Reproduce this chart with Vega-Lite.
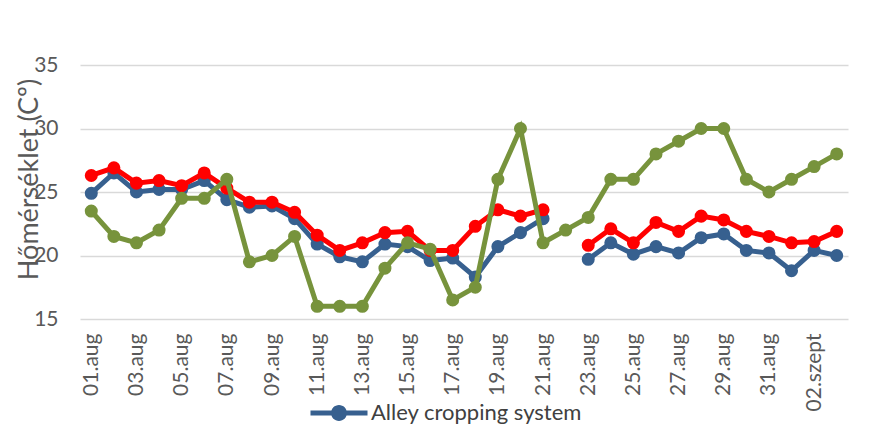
{
  "$schema": "https://vega.github.io/schema/vega-lite/v6.json",
  "width": 768,
  "height": 254,
  "autosize": {"type": "none"},
  "padding": {"left": 80, "top": 65, "right": 22, "bottom": 108},
  "background": "white",
  "config": {
    "view": {"stroke": null},
    "font": "Lato",
    "axis": {"labelFont": "Lato", "titleFont": "Lato", "labelColor": "#595959", "titleColor": "#595959"},
    "legend": {"padding": 0}
  },
  "data": {"values": [
    {"d":"01.aug","s":"Alley cropping system","t":24.9},{"d":"02.aug","s":"Alley cropping system","t":26.5},{"d":"03.aug","s":"Alley cropping system","t":25.0},{"d":"04.aug","s":"Alley cropping system","t":25.2},{"d":"05.aug","s":"Alley cropping system","t":25.2},{"d":"06.aug","s":"Alley cropping system","t":25.9},{"d":"07.aug","s":"Alley cropping system","t":24.4},{"d":"08.aug","s":"Alley cropping system","t":23.8},{"d":"09.aug","s":"Alley cropping system","t":23.9},{"d":"10.aug","s":"Alley cropping system","t":22.9},{"d":"11.aug","s":"Alley cropping system","t":20.9},{"d":"12.aug","s":"Alley cropping system","t":19.9},{"d":"13.aug","s":"Alley cropping system","t":19.5},{"d":"14.aug","s":"Alley cropping system","t":20.9},{"d":"15.aug","s":"Alley cropping system","t":20.7},{"d":"16.aug","s":"Alley cropping system","t":19.6},{"d":"17.aug","s":"Alley cropping system","t":19.8},{"d":"18.aug","s":"Alley cropping system","t":18.3},{"d":"19.aug","s":"Alley cropping system","t":20.7},{"d":"20.aug","s":"Alley cropping system","t":21.8},{"d":"21.aug","s":"Alley cropping system","t":22.9},{"d":"22.aug","s":"Alley cropping system","t":null},{"d":"23.aug","s":"Alley cropping system","t":19.7},{"d":"24.aug","s":"Alley cropping system","t":21.0},{"d":"25.aug","s":"Alley cropping system","t":20.1},{"d":"26.aug","s":"Alley cropping system","t":20.7},{"d":"27.aug","s":"Alley cropping system","t":20.2},{"d":"28.aug","s":"Alley cropping system","t":21.4},{"d":"29.aug","s":"Alley cropping system","t":21.7},{"d":"30.aug","s":"Alley cropping system","t":20.4},{"d":"31.aug","s":"Alley cropping system","t":20.2},{"d":"01.szept","s":"Alley cropping system","t":18.8},{"d":"02.szept","s":"Alley cropping system","t":20.4},{"d":"03.szept","s":"Alley cropping system","t":20.0},
    {"d":"01.aug","s":"Open field","t":26.3},{"d":"02.aug","s":"Open field","t":26.9},{"d":"03.aug","s":"Open field","t":25.7},{"d":"04.aug","s":"Open field","t":25.9},{"d":"05.aug","s":"Open field","t":25.5},{"d":"06.aug","s":"Open field","t":26.5},{"d":"07.aug","s":"Open field","t":25.3},{"d":"08.aug","s":"Open field","t":24.2},{"d":"09.aug","s":"Open field","t":24.2},{"d":"10.aug","s":"Open field","t":23.4},{"d":"11.aug","s":"Open field","t":21.6},{"d":"12.aug","s":"Open field","t":20.4},{"d":"13.aug","s":"Open field","t":21.0},{"d":"14.aug","s":"Open field","t":21.8},{"d":"15.aug","s":"Open field","t":21.9},{"d":"16.aug","s":"Open field","t":20.4},{"d":"17.aug","s":"Open field","t":20.4},{"d":"18.aug","s":"Open field","t":22.3},{"d":"19.aug","s":"Open field","t":23.6},{"d":"20.aug","s":"Open field","t":23.1},{"d":"21.aug","s":"Open field","t":23.6},{"d":"22.aug","s":"Open field","t":null},{"d":"23.aug","s":"Open field","t":20.8},{"d":"24.aug","s":"Open field","t":22.1},{"d":"25.aug","s":"Open field","t":21.0},{"d":"26.aug","s":"Open field","t":22.6},{"d":"27.aug","s":"Open field","t":21.9},{"d":"28.aug","s":"Open field","t":23.1},{"d":"29.aug","s":"Open field","t":22.8},{"d":"30.aug","s":"Open field","t":21.9},{"d":"31.aug","s":"Open field","t":21.5},{"d":"01.szept","s":"Open field","t":21.0},{"d":"02.szept","s":"Open field","t":21.1},{"d":"03.szept","s":"Open field","t":21.9},
    {"d":"01.aug","s":"Forest","t":23.5},{"d":"02.aug","s":"Forest","t":21.5},{"d":"03.aug","s":"Forest","t":21.0},{"d":"04.aug","s":"Forest","t":22.0},{"d":"05.aug","s":"Forest","t":24.5},{"d":"06.aug","s":"Forest","t":24.5},{"d":"07.aug","s":"Forest","t":26.0},{"d":"08.aug","s":"Forest","t":19.5},{"d":"09.aug","s":"Forest","t":20.0},{"d":"10.aug","s":"Forest","t":21.5},{"d":"11.aug","s":"Forest","t":16.0},{"d":"12.aug","s":"Forest","t":16.0},{"d":"13.aug","s":"Forest","t":16.0},{"d":"14.aug","s":"Forest","t":19.0},{"d":"15.aug","s":"Forest","t":21.0},{"d":"16.aug","s":"Forest","t":20.5},{"d":"17.aug","s":"Forest","t":16.5},{"d":"18.aug","s":"Forest","t":17.5},{"d":"19.aug","s":"Forest","t":26.0},{"d":"20.aug","s":"Forest","t":30.0},{"d":"21.aug","s":"Forest","t":21.0},{"d":"22.aug","s":"Forest","t":22.0},{"d":"23.aug","s":"Forest","t":23.0},{"d":"24.aug","s":"Forest","t":26.0},{"d":"25.aug","s":"Forest","t":26.0},{"d":"26.aug","s":"Forest","t":28.0},{"d":"27.aug","s":"Forest","t":29.0},{"d":"28.aug","s":"Forest","t":30.0},{"d":"29.aug","s":"Forest","t":30.0},{"d":"30.aug","s":"Forest","t":26.0},{"d":"31.aug","s":"Forest","t":25.0},{"d":"01.szept","s":"Forest","t":26.0},{"d":"02.szept","s":"Forest","t":27.0},{"d":"03.szept","s":"Forest","t":28.0}
  ]},
  "encoding": {
    "x": {
      "field": "d", "type": "ordinal",
      "scale": {"domain": ["01.aug","02.aug","03.aug","04.aug","05.aug","06.aug","07.aug","08.aug","09.aug","10.aug","11.aug","12.aug","13.aug","14.aug","15.aug","16.aug","17.aug","18.aug","19.aug","20.aug","21.aug","22.aug","23.aug","24.aug","25.aug","26.aug","27.aug","28.aug","29.aug","30.aug","31.aug","01.szept","02.szept","03.szept"]},
      "axis": {
        "title": null,
        "values": ["01.aug","03.aug","05.aug","07.aug","09.aug","11.aug","13.aug","15.aug","17.aug","19.aug","21.aug","23.aug","25.aug","27.aug","29.aug","31.aug","02.szept"],
        "labelAngle": -90, "labelAlign": "right", "labelBaseline": "middle",
        "labelFontSize": 21, "labelPadding": 14, "ticks": false, "domain": false, "grid": false, "labelOverlap": false
      }
    },
    "y": {
      "field": "t", "type": "quantitative",
      "scale": {"domain": [15, 35], "nice": false, "zero": false},
      "axis": {
        "title": "Hőmérséklet (Cº)", "titleFontSize": 27, "titleFontWeight": "normal",
        "titleX": -51, "titleY": 114, "titleAngle": -90, "titleAlign": "center", "titleBaseline": "middle",
        "values": [15, 20, 25, 30, 35], "labelFontSize": 21, "labelPadding": 22,
        "ticks": false, "domain": false, "grid": true, "gridColor": "#d9d9d9", "gridWidth": 1.5
      }
    },
    "color": {
      "field": "s", "type": "nominal",
      "scale": {"domain": ["Alley cropping system", "Open field", "Forest"], "range": ["#37608F", "#FF0000", "#77933C"]},
      "legend": {
        "values": ["Alley cropping system"], "title": null, "orient": "none",
        "legendX": 230, "legendY": 319, "direction": "horizontal",
        "symbolType": "M-1,-0.09H1V0.09H-1Z M0.28,0A0.28,0.28 0 1,1 -0.28,0A0.28,0.28 0 1,1 0.28,0Z",
        "symbolSize": 3250, "labelFontSize": 22, "labelColor": "#404040", "labelFont": "Lato", "labelOffset": 3, "labelLimit": 400,
        "encode": {"symbols": {"update": {"fill": {"value": "#37608F"}, "stroke": {"value": "#37608F"}, "strokeWidth": {"value": 0}, "opacity": {"value": 1}}}}
      }
    }
  },
  "layer": [
    {"transform": [{"filter": "datum.s === 'Alley cropping system'"}], "mark": {"type": "line", "strokeWidth": 5, "invalid": "break-paths-show-domains", "point": {"filled": true, "size": 170, "opacity": 1}}},
    {"transform": [{"filter": "datum.s === 'Open field'"}], "mark": {"type": "line", "strokeWidth": 5, "invalid": "break-paths-show-domains", "point": {"filled": true, "size": 170, "opacity": 1}}},
    {"transform": [{"filter": "datum.s === 'Forest'"}], "mark": {"type": "line", "strokeWidth": 5, "invalid": "break-paths-show-domains", "point": {"filled": true, "size": 170, "opacity": 1}}}
  ]
}
